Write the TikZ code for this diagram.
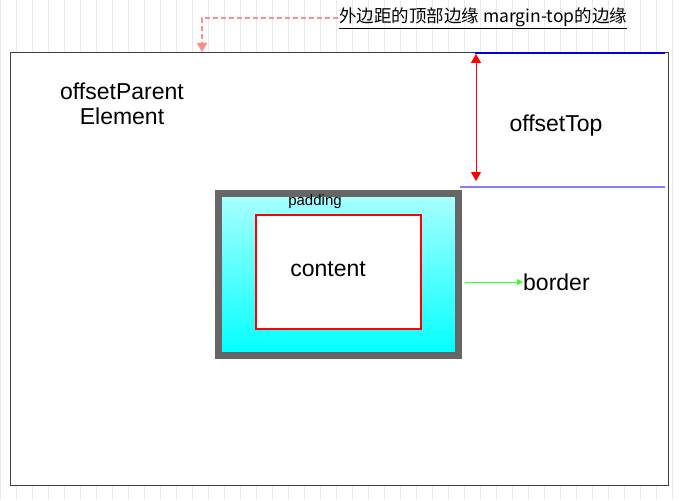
\documentclass[tikz,border=0pt]{standalone}
\usepackage{fontspec}
\setmainfont{Liberation Sans}
\newfontfamily\cjk{Noto Sans CJK SC}
\usetikzlibrary{arrows.meta}
\definecolor{gridc}{RGB}{232,232,245}
\begin{document}
\begin{tikzpicture}[x=1pt,y=-1pt,
  lbl/.style={inner sep=0pt,font=\fontsize{23}{25}\selectfont},
  tip/.style={-{Triangle[width=10pt,length=9pt]}}]
\useasboundingbox (0,0) rectangle (679,500);
\draw[gridc,line width=0.5pt,step=16] (0,0) grid (679,500);
\node[draw=black!75,line width=1pt,fill=white,minimum width=658pt,minimum height=432pt,inner sep=0pt] (outer) at (339,269) {};
\draw[blue!85!black,line width=2.5pt] (475,53) -- (665,53);
\draw[blue!50,line width=2pt] (460,187) -- (665,187);
\coordinate (ta) at (476,54);
\coordinate (tb) at (476,181);
\draw[red,line width=1pt,{Triangle[width=10pt,length=9pt]}-{Triangle[width=10pt,length=9pt]}] (ta) -- (tb);
\node[lbl] (ot) at (556,126) {offsetTop};
\node[lbl,align=center] (ope) at (122,104) {offsetParent\\ Element};
\shade[top color={rgb,255:red,170;green,255;blue,255},bottom color={rgb,255:red,0;green,255;blue,255}] (218,193) rectangle (459,356);
\node[draw=black!60,line width=7pt,minimum width=240pt,minimum height=162pt,inner sep=0pt] (bord) at (338.5,274.5) {};
\node[draw=red,line width=1.5pt,fill=white,minimum width=165pt,minimum height=114pt,inner sep=0pt] (content) at (338.5,272) {};
\node[inner sep=0pt,font=\fontsize{15}{17}\selectfont] (pad) at (315,202) {padding};
\node[lbl] (ct) at (328,269) {content};
\node[lbl,anchor=west] (bt) at (523,282) {border};
\draw[green!80,line width=1pt,-{Triangle[width=6pt,length=6pt]}] (bord.east |- bt.west) ++(3,0) -- (bt.west);
\node[inner sep=1pt,anchor=west,font=\cjk\fontsize{17.5}{19}\selectfont] (note) at (338,18) {\underline{外边距的顶部边缘 margin-top的边缘}};
\coordinate (mt) at (202,52);
\draw[red!45,line width=1.5pt,dash pattern=on 5pt off 3pt,tip] (note.west) -- (202,18) -- (mt);
\end{tikzpicture}
\end{document}
